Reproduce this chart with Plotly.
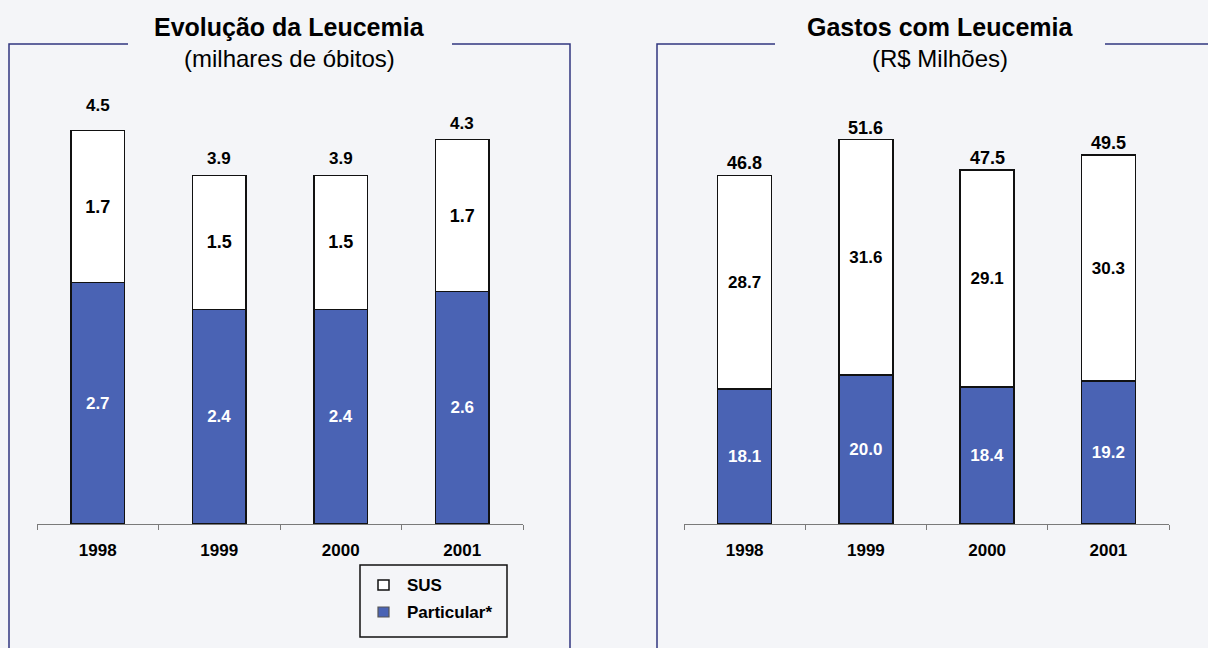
import plotly.graph_objects as go

# Dados
anos = ["1998", "1999", "2000", "2001"]

obitos_particular = [2.7, 2.4, 2.4, 2.6]
obitos_sus = [1.7, 1.5, 1.5, 1.7]
obitos_total = [4.5, 3.9, 3.9, 4.3]

gastos_particular = [18.1, 20.0, 18.4, 19.2]
gastos_sus = [28.7, 31.6, 29.1, 30.3]
gastos_total = [46.8, 51.6, 47.5, 49.5]

W, H = 1208, 648
FONT = "Liberation Sans, Arial, sans-serif"
AZUL = "#4a63b4"
FUNDO = "#f4f5f8"
MOLDURA = "#30367f"


def px_x(p):
    return p / W


def px_y(p):
    return 1 - p / H


fig = go.Figure()


def add_panel(xa, ya, particular, sus, tsize_w, tsize_b):
    fig.add_trace(go.Bar(
        x=anos, y=particular, xaxis=xa, yaxis=ya, name="Particular*",
        marker=dict(color=AZUL, line=dict(color="#111111", width=1.5)),
        texttemplate="%{y:.1f}", textposition="inside", insidetextanchor="middle",
        textangle=0, constraintext="none",
        textfont=dict(family=FONT, size=tsize_w, color="white", weight="bold"),
        showlegend=False, hoverinfo="skip",
    ))
    fig.add_trace(go.Bar(
        x=anos, y=sus, xaxis=xa, yaxis=ya, name="SUS",
        marker=dict(color="white", line=dict(color="#111111", width=1.5)),
        texttemplate="%{y:.1f}", textposition="inside", insidetextanchor="middle",
        textangle=0, constraintext="none",
        textfont=dict(family=FONT, size=tsize_b, color="black", weight="bold"),
        showlegend=False, hoverinfo="skip",
    ))


add_panel("x", "y", obitos_particular, obitos_sus, 17, 18)
add_panel("x2", "y2", gastos_particular, gastos_sus, 17, 17)

annotations = []
# Totais acima das colunas (posição pelo índice da categoria)
for i, t in enumerate(obitos_total):
    annotations.append(dict(x=i, y=t, xref="x", yref="y", text=f"{t:.1f}",
                            showarrow=False, yanchor="bottom", yshift=5,
                            font=dict(family=FONT, size=17, color="black", weight="bold")))
for i, t in enumerate(gastos_total):
    annotations.append(dict(x=i, y=t, xref="x2", yref="y2", text=f"{t:.1f}",
                            showarrow=False, yanchor="bottom", yshift=0,
                            font=dict(family=FONT, size=18, color="black", weight="bold")))

# Títulos
for cx, t1, t2 in [(289, "Evolução da Leucemia", "(milhares de óbitos)"),
                   (940, "Gastos com Leucemia", "(R$ Milhões)")]:
    annotations.append(dict(x=px_x(cx), y=px_y(27), xref="paper", yref="paper",
                            text=t1, showarrow=False, xanchor="center", yanchor="middle",
                            font=dict(family=FONT, size=25, color="black", weight="bold")))
    annotations.append(dict(x=px_x(cx), y=px_y(59), xref="paper", yref="paper",
                            text=t2, showarrow=False, xanchor="center", yanchor="middle",
                            font=dict(family=FONT, size=24, color="black")))

# Legenda
annotations.append(dict(x=px_x(405), y=px_y(585), xref="paper", yref="paper", text="SUS",
                        showarrow=False, xanchor="left", yanchor="middle",
                        font=dict(family=FONT, size=17, color="black", weight="bold")))
annotations.append(dict(x=px_x(405), y=px_y(612), xref="paper", yref="paper", text="Particular*",
                        showarrow=False, xanchor="left", yanchor="middle",
                        font=dict(family=FONT, size=17, color="black", weight="bold")))

shapes = []


def pline(pts):
    path = "M " + " L ".join(f"{px_x(x)},{px_y(y)}" for x, y in pts)
    shapes.append(dict(type="path", path=path, xref="paper", yref="paper",
                       line=dict(color=MOLDURA, width=1.5)))


# Molduras dos painéis
pline([(128, 44), (9, 44), (9, 660)])
pline([(452, 44), (570, 44), (570, 660)])
pline([(775, 44), (657, 44), (657, 660)])
pline([(1105, 44), (1215, 44)])

# Caixa e símbolos da legenda
shapes.append(dict(type="rect", xref="paper", yref="paper",
                   x0=px_x(360), x1=px_x(507), y0=px_y(637), y1=px_y(565),
                   line=dict(color="#111111", width=1.5), fillcolor=FUNDO))
shapes.append(dict(type="rect", xref="paper", yref="paper",
                   x0=px_x(378), x1=px_x(389), y0=px_y(590), y1=px_y(580),
                   line=dict(color="#111111", width=1.5), fillcolor="white"))
shapes.append(dict(type="rect", xref="paper", yref="paper",
                   x0=px_x(378), x1=px_x(389), y0=px_y(617), y1=px_y(607),
                   line=dict(color="#555555", width=1.2), fillcolor=AZUL))

xaxis_common = dict(
    type="category", range=[-0.5, 3.5], fixedrange=True,
    showline=True, linecolor="#7a7a7a", linewidth=1,
    ticks="outside", tickson="boundaries", ticklen=5, tickcolor="#7a7a7a", tickwidth=1,
    tickfont=dict(family=FONT, size=17, color="black", weight="bold"),
    ticklabelstandoff=11, showgrid=False, zeroline=False,
)
yaxis_common = dict(showline=False, showticklabels=False, ticks="", showgrid=False,
                    zeroline=False, fixedrange=True)

ydom = [px_y(524), px_y(77)]

fig.update_layout(
    width=W, height=H, autosize=False,
    margin=dict(l=0, r=0, t=0, b=0),
    paper_bgcolor=FUNDO, plot_bgcolor=FUNDO,
    barmode="stack", bargap=0.556,
    showlegend=False,
    xaxis=dict(domain=[px_x(37), px_x(523)], anchor="y", **xaxis_common),
    yaxis=dict(domain=ydom, range=[0, 5], anchor="x", **yaxis_common),
    xaxis2=dict(domain=[px_x(684), px_x(1169)], anchor="y2", **xaxis_common),
    yaxis2=dict(domain=ydom, range=[0, 60], anchor="x2", **yaxis_common),
    annotations=annotations,
    shapes=shapes,
)

fig.write_html("out.html", config={"displayModeBar": False})
